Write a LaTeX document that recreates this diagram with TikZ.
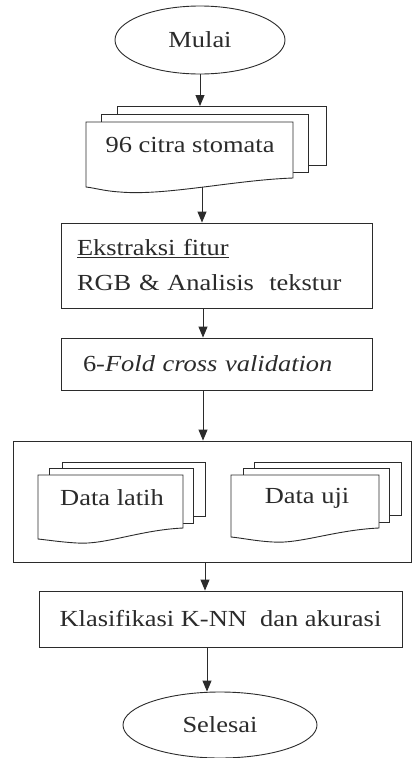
\documentclass[tikz,border=0pt]{standalone}
\usepackage{fontspec}
\setmainfont{Liberation Serif}[FakeStretch=1.15]
\usetikzlibrary{arrows.meta,shapes.geometric}
\definecolor{ink}{HTML}{2B2B2B}
\begin{document}
\begin{tikzpicture}[x=1pt,y=-1pt,
  every node/.style={font=\fontsize{23}{35}\selectfont, text=ink},
  line/.style={draw=ink, line width=0.9pt},
  term/.style={ellipse, line, fill=white, inner sep=0pt},
  procbox/.style={rectangle, line, inner sep=0pt},
  page/.style={line, fill=white},
  flow/.style={line, -{Triangle[length=11pt,width=9pt]}}
]
\useasboundingbox (0,0) rectangle (412,758);
\fill[white] (0,0) rectangle (412,758);

% start
\node[term, minimum width=170pt, minimum height=68pt] (mulai) at (200,40) {Mulai};

% stack: 96 citra stomata
\draw[page] (117,106) rectangle (326,165);
\draw[page] (101,114) rectangle (308,172);
\draw[page] (86,122) -- (293,122) -- (293,178)
  .. controls (235,180) and (165,196) .. (120,192)
  .. controls (104,191) and (95,188) .. (86,187) -- cycle;
\node (citra) at (190,145) {96 citra stomata};
\coordinate (citraTop) at (200,106);
\coordinate (citraBot) at (202,187);

% feature extraction
\node[procbox, minimum width=311pt, minimum height=85pt, text width=279pt,
      inner xsep=16pt, align=left] (ekstraksi) at (216.5,265.5)
  {\underline{Ekstraksi fitur}\\RGB \& Analisis~~tekstur};

% 6-fold
\node[procbox, minimum width=311pt, minimum height=52pt, text width=267pt,
      inner xsep=22pt, align=left] (fold) at (216.5,364)
  {6-\textit{Fold cross validation}};

% data container
\node[procbox, minimum width=398pt, minimum height=121pt] (data) at (212,501.5) {};

% Data latih stack
\draw[page] (62,462) rectangle (205,516);
\draw[page] (49,468) rectangle (193,523);
\draw[page] (38,475) -- (183,475) -- (183,528)
  .. controls (140,530) and (105,545) .. (77,543)
  .. controls (60,542) and (48,540) .. (38,539) -- cycle;
\node (latih) at (112,498) {Data latih};

% Data uji stack
\draw[page] (254,462) rectangle (401,515);
\draw[page] (243,468) rectangle (389,522);
\draw[page] (231,475) -- (379,475) -- (379,528)
  .. controls (335,530) and (300,544) .. (273,542)
  .. controls (255,541) and (242,538) .. (231,537) -- cycle;
\node (uji) at (307,498) {Data uji};

% classification
\node[procbox, minimum width=363pt, minimum height=56pt] (klas) at (220.5,619)
  {Klasifikasi K-NN~~dan akurasi};

% end
\node[term, minimum width=194pt, minimum height=66pt] (selesai) at (220,725) {Selesai};

% connector columns
\coordinate (c1) at (203,0);
\coordinate (c2) at (205,0);
\coordinate (c3) at (207,0);

\draw[flow] (mulai.south) -- (citraTop);
\draw[flow] (citraBot) -- (citraBot |- ekstraksi.north);
\draw[flow] (ekstraksi.south -| c1) -- (fold.north -| c1);
\draw[flow] (fold.south -| c1) -- (data.north -| c1);
\draw[flow] (data.south -| c2) -- (klas.north -| c2);
\draw[flow] (klas.south -| c3) -- (selesai.north -| c3);
\end{tikzpicture}
\end{document}
